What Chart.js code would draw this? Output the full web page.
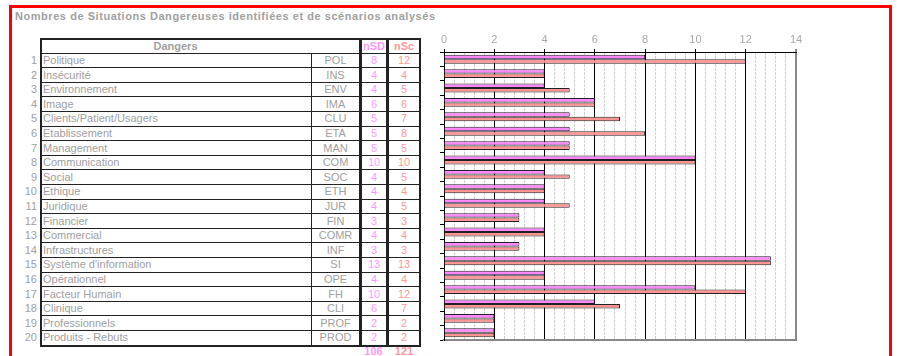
<!DOCTYPE html>
<html>
<head>
<meta charset="utf-8">
<script src="https://cdn.jsdelivr.net/npm/chart.js@4.4.0/dist/chart.umd.min.js"></script>
<style>
  body { margin: 0; width: 897px; height: 356px; overflow: hidden; background: #fff;
         font-family: "Liberation Sans", Arial, sans-serif; position: relative; }
  #frame { position: absolute; left: 9px; top: 5px; width: 877px; height: 400px; border: 3px solid #ff0000; }
  #title { position: absolute; left: 15px; top: 10px; font-size: 11px; font-weight: bold; color: #a0a0a0;
           white-space: nowrap; letter-spacing: 0.55px; }
  .t { position: absolute; font-size: 11px; color: #a0a0a0; white-space: nowrap; line-height: 14.6px; height: 14.6px; }
  .hl { position: absolute; background: #222; height: 1px; }
  .vl { position: absolute; background: #222; width: 1px; }
  #box { position: absolute; left: 40px; top: 38px; width: 377px; height: 305px; border: 2px solid #222; }
  #chartWrap { position: absolute; left: 430px; top: 28px; width: 380px; height: 314px; }
</style>
</head>
<body>
<div id="frame"></div>
<div id="title">Nombres de Situations Dangereuses identifiées et de scénarios analysés</div>
<div id="table"></div>
<div id="chartWrap"><canvas id="c"></canvas></div>
<script>
const dangers = ["Politique", "Insécurité", "Environnement", "Image", "Clients/Patient/Usagers",
  "Etablissement", "Management", "Communication", "Social", "Ethique", "Juridique", "Financier",
  "Commercial", "Infrastructures", "Système d'information", "Opérationnel", "Facteur Humain",
  "Clinique", "Professionnels", "Produits - Rebuts"];
const codes = ["POL", "INS", "ENV", "IMA", "CLU", "ETA", "MAN", "COM", "SOC", "ETH", "JUR", "FIN",
  "COMR", "INF", "SI", "OPE", "FH", "CLI", "PROF", "PROD"];
const nSD = [8, 4, 4, 6, 5, 5, 5, 10, 4, 4, 4, 3, 4, 3, 13, 4, 10, 6, 2, 2];
const nSc = [12, 4, 5, 6, 7, 8, 5, 10, 5, 4, 5, 3, 4, 3, 13, 4, 12, 7, 2, 2];
const xTicks = { min: 0, max: 14, step: 2, minorStep: 0.4 };

const PINK = "#ff88ff";
const SALMON = "#ff9494";
const TXT_PINK = "#ff99ff";
const TXT_SALMON = "#ff9999";

// ---- table on the left ----
const tbl = document.getElementById("table");
function add(cls, style, text) {
  const d = document.createElement("div");
  d.className = cls;
  d.style.cssText = style;
  if (text !== undefined) d.textContent = text;
  tbl.appendChild(d);
  return d;
}
const ROW_TOP = 53, ROW_H = 14.6;
add("", "", undefined).id = "box";
add("t", "left:40px;top:38.5px;width:271px;text-align:center;font-weight:bold;", "Dangers");
add("t", "left:361px;top:38.5px;width:26px;text-align:center;font-weight:bold;color:" + TXT_PINK, "nSD");
add("t", "left:389px;top:38.5px;width:30px;text-align:center;font-weight:bold;color:" + TXT_SALMON, "nSc");
add("vl", "left:311px;top:" + ROW_TOP + "px;height:" + (ROW_H * 20) + "px;");
add("vl", "left:359px;top:39px;height:306px;width:1.5px;");
add("vl", "left:361px;top:39px;height:306px;width:1px;");
add("vl", "left:386px;top:39px;height:306px;width:1.5px;");
add("vl", "left:388px;top:39px;height:306px;width:1px;");
dangers.forEach((name, i) => {
  const top = ROW_TOP + i * ROW_H;
  add("hl", "left:40px;width:379px;top:" + (top - 0.5) + "px;");
  add("t", "left:0;width:37px;text-align:right;top:" + top + "px;", String(i + 1));
  add("t", "left:43px;top:" + top + "px;", name);
  add("t", "left:312px;width:47px;text-align:center;top:" + top + "px;", codes[i]);
  add("t", "left:361px;width:26px;text-align:center;top:" + top + "px;color:" + TXT_PINK, String(nSD[i]));
  add("t", "left:389px;width:30px;text-align:center;top:" + top + "px;color:" + TXT_SALMON, String(nSc[i]));
});
const sum = a => a.reduce((s, v) => s + v, 0);
const totTop = ROW_TOP + 20 * ROW_H - 1;
add("t", "left:360px;width:27px;text-align:center;font-weight:bold;top:" + totTop + "px;color:" + TXT_PINK, String(sum(nSD)));
add("t", "left:389px;width:30px;text-align:center;font-weight:bold;top:" + totTop + "px;color:" + TXT_SALMON, String(sum(nSc)));

// ---- bar chart on the right ----
const isMajor = v => Math.abs(v / xTicks.step - Math.round(v / xTicks.step)) < 1e-6;

new Chart(document.getElementById("c"), {
  type: "bar",
  data: {
    labels: codes,
    datasets: [
      { label: "nSD", data: nSD, backgroundColor: PINK, borderColor: "#222", borderWidth: 1 },
      { label: "nSc", data: nSc, backgroundColor: SALMON, borderColor: "#222", borderWidth: 1 },
    ],
  },
  options: {
    indexAxis: "y",
    responsive: true,
    maintainAspectRatio: false,
    animation: false,
    layout: { padding: { left: 0, right: 14, top: 0, bottom: 2 } },
    datasets: { bar: { categoryPercentage: 0.62, barPercentage: 1.0 } },
    plugins: { legend: { display: false }, tooltip: { enabled: false } },
    scales: {
      x: {
        type: "linear", position: "top", min: xTicks.min, max: xTicks.max,
        ticks: { stepSize: xTicks.step, color: "#a8a8a8", font: { size: 11, family: "Liberation Sans" }, padding: 2 },
        grid: {
          color: ctx => (ctx.tick && ctx.tick.value === xTicks.max ? "#888" : "#000"),
          lineWidth: ctx => (ctx.tick && ctx.tick.value === xTicks.max ? 2 : 1),
          tickLength: 3,
        },
        border: { color: "#000" },
        afterFit: s => { s.height = 24; },
      },
      xm: {
        type: "linear", position: "top", min: xTicks.min, max: xTicks.max,
        ticks: { display: false, stepSize: xTicks.minorStep },
        grid: {
          color: ctx => (ctx.tick && isMajor(ctx.tick.value) ? "rgba(0,0,0,0)" : "#cfcfcf"),
          drawTicks: false,
        },
        border: { display: false, dash: [3, 1] },
        afterFit: s => { s.height = 0; },
      },
      xb: {
        type: "linear", position: "bottom", min: xTicks.min, max: xTicks.max,
        ticks: { display: false },
        grid: { display: false },
        border: { color: "#888", width: 2 },
        afterFit: s => { s.height = 0; },
      },
      y: {
        ticks: { display: false },
        grid: { drawOnChartArea: false, color: "#000", tickLength: 4, offset: true },
        border: { color: "#000" },
        afterFit: s => { s.width = 14; },
      },
    },
  },
});
</script>
</body>
</html>
